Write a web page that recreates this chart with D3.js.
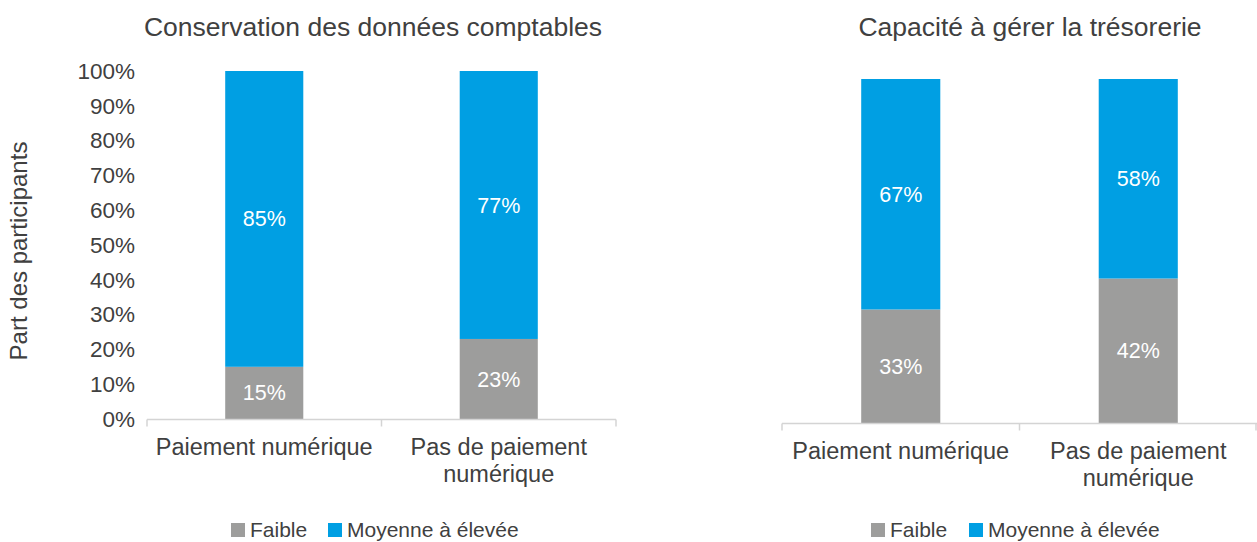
<!DOCTYPE html>
<html><head><meta charset="utf-8">
<script src="https://cdn.jsdelivr.net/npm/d3@7"></script>
<style>
html,body{margin:0;padding:0;background:#fff;}
svg text{font-family:"Liberation Sans",Arial,Helvetica,sans-serif;}
</style></head>
<body><svg id="c" width="1257" height="542"></svg>
<script>
const categories = [["Paiement numérique"], ["Pas de paiement", "numérique"]];
const categoryKeys = ["Paiement numérique", "Pas de paiement numérique"];
const seriesNames = ["Faible", "Moyenne à élevée"];
const chartTitles = ["Conservation des données comptables", "Capacité à gérer la trésorerie"];
const conservationFaible = [15, 23];
const conservationMoyenne = [85, 77];
const tresorerieFaible = [33, 42];
const tresorerieMoyenne = [67, 58];
const yTicks = [0, 10, 20, 30, 40, 50, 60, 70, 80, 90, 100];
const yAxisTitle = "Part des participants";

const colors = ["#9d9d9c", "#009fe3"];
const textColor = "#404040";
const svg = d3.select("#c");

const panels = [
  {title: chartTitles[0], faible: conservationFaible, moy: conservationMoyenne,
   x0: 147, x1: 616, yTop: 71, yBot: 419, showY: true, titleX: 373, legend: [231, 328]},
  {title: chartTitles[1], faible: tresorerieFaible, moy: tresorerieMoyenne,
   x0: 782, x1: 1257, yTop: 79, yBot: 423, showY: false, titleX: 1030, legend: [871, 969]}
];

panels.forEach(p => {
  const g = svg.append("g");
  const x = d3.scaleBand().domain(categoryKeys).range([p.x0, p.x1]).paddingInner(0.667).paddingOuter(0.3335);
  const y = d3.scaleLinear().domain([0, 100]).range([p.yBot, p.yTop]);
  const rows = categoryKeys.map((k, i) => ({key: k, Faible: p.faible[i], "Moyenne à élevée": p.moy[i]}));
  const stacked = d3.stack().keys(seriesNames)(rows);

  // title
  g.append("text").attr("x", p.titleX).attr("y", 36).attr("text-anchor", "middle")
    .attr("font-size", 26.5).attr("fill", textColor).text(p.title);

  // bars
  stacked.forEach((s, si) => {
    g.selectAll(null).data(s).enter().append("rect")
      .attr("x", d => x(d.data.key)).attr("width", x.bandwidth())
      .attr("y", d => y(d[1])).attr("height", d => y(d[0]) - y(d[1]))
      .attr("fill", colors[si]);
    g.selectAll(null).data(s).enter().append("text")
      .attr("x", d => x(d.data.key) + x.bandwidth() / 2)
      .attr("y", d => (y(d[0]) + y(d[1])) / 2)
      .attr("dy", "0.35em").attr("text-anchor", "middle")
      .attr("font-size", 21.5).attr("fill", "#fff")
      .text(d => (d[1] - d[0]) + "%");
  });

  // x axis line and ticks
  const axisY = p.yBot + 0.5;
  g.append("line").attr("x1", p.x0).attr("x2", p.x1).attr("y1", axisY).attr("y2", axisY)
    .attr("stroke", "#d4d4d4").attr("stroke-width", 1.5);
  const step = x.step();
  const bounds = [p.x0].concat(categoryKeys.map(k => x(k) - x.paddingOuter() * step + step));
  bounds.forEach(bx => {
    const xx = Math.min(bx, 1256);
    g.append("line").attr("x1", xx).attr("x2", xx).attr("y1", axisY).attr("y2", axisY + 7)
      .attr("stroke", "#d4d4d4").attr("stroke-width", 1.5);
  });

  // category labels
  categoryKeys.forEach((k, i) => {
    const t = g.append("text").attr("x", x(k) + x.bandwidth() / 2).attr("y", p.yBot + 36)
      .attr("text-anchor", "middle").attr("font-size", 23.5).attr("fill", textColor);
    categories[i].forEach((line, li) => {
      t.append("tspan").attr("x", x(k) + x.bandwidth() / 2).attr("dy", li === 0 ? 0 : 27).text(line);
    });
  });

  // y axis
  if (p.showY) {
    const ya = g.append("g").attr("transform", `translate(${p.x0 - 10},0)`)
      .call(d3.axisLeft(y).tickValues(yTicks).tickSize(0).tickPadding(2).tickFormat(d => d + "%"));
    ya.select(".domain").remove();
    ya.selectAll("text").attr("font-size", 22.5).attr("fill", textColor)
      .style("font-family", '"Liberation Sans",Arial,sans-serif');
    g.append("text").attr("transform", `translate(27,251) rotate(-90)`)
      .attr("text-anchor", "middle").attr("font-size", 24).attr("fill", textColor).text(yAxisTitle);
  }

  // legend
  const lg = g.append("g").attr("transform", `translate(0,530)`);
  seriesNames.forEach((n, i) => {
    lg.append("rect").attr("x", p.legend[i]).attr("y", -7).attr("width", 14).attr("height", 14).attr("fill", colors[i]);
    lg.append("text").attr("x", p.legend[i] + 19).attr("y", 0).attr("dy", "0.35em")
      .attr("font-size", 21).attr("fill", textColor).text(n);
  });
});
</script></body></html>
